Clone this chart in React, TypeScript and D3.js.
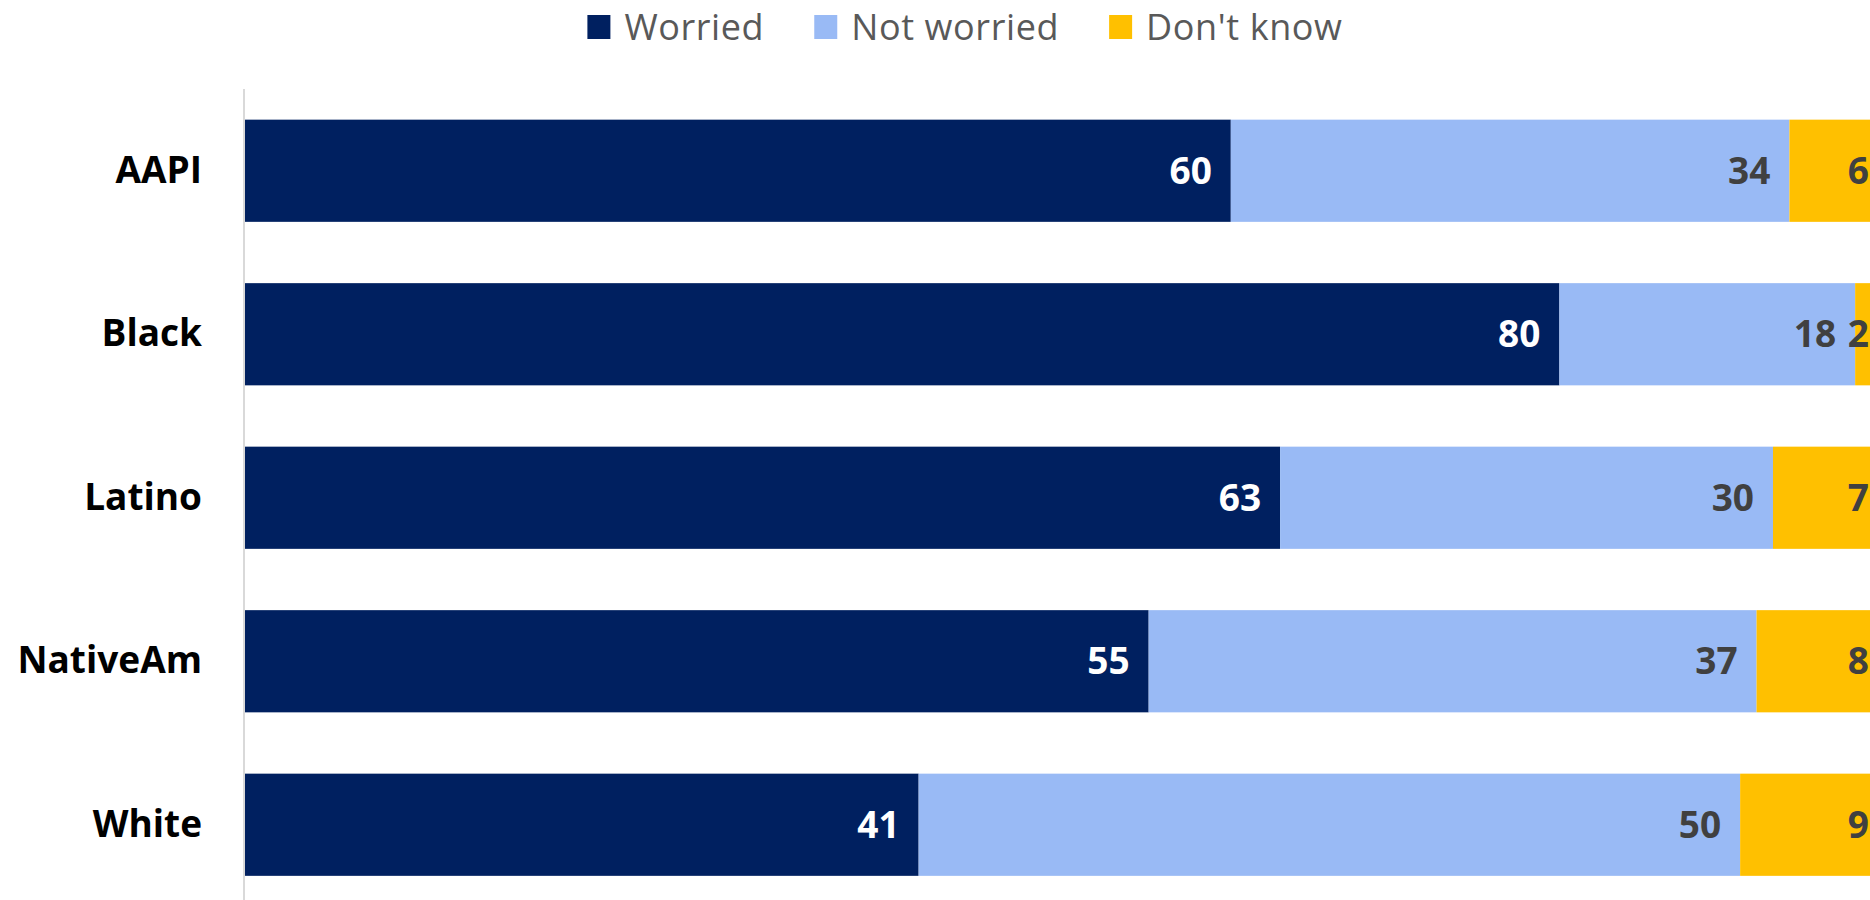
import React, { useEffect, useRef } from "react";
import * as d3 from "d3";

const categories = ["AAPI", "Black", "Latino", "NativeAm", "White"];
const worried = [60, 80, 63, 55, 41];
const notWorried = [34, 18, 30, 37, 50];
const dontKnow = [6, 2, 7, 8, 9];
const seriesNames = ["Worried", "Not worried", "Don't know"];
const seriesColors = ["#002060", "#99BAF5", "#FFC000"];
const labelColors = ["#FFFFFF", "#404040", "#404040"];

const W = 1870;
const H = 900;
const FONT = "'Open Sans', 'DejaVu Sans', sans-serif";
const FS = 37;
const LEGEND_FS = 36;

export default function App() {
  const ref = useRef<SVGSVGElement | null>(null);

  useEffect(() => {
    const svg = d3.select(ref.current);
    svg.selectAll("*").remove();

    const rows = categories.map((c, i) => ({
      cat: c,
      values: [worried[i], notWorried[i], dontKnow[i]],
    }));

    const x = d3.scaleLinear().domain([0, 100]).range([245, 1888]);
    const y = d3
      .scaleBand<string>()
      .domain(categories)
      .range([89, 906.5])
      .paddingInner(0.375)
      .paddingOuter(0.1875);

    const capHalf = (FS * 0.714) / 2;

    // axis line
    svg
      .append("line")
      .attr("x1", 244)
      .attr("x2", 244)
      .attr("y1", 89)
      .attr("y2", 906)
      .attr("stroke", "#D9D9D9")
      .attr("stroke-width", 2);

    // bars
    rows.forEach((r) => {
      let acc = 0;
      r.values.forEach((v, si) => {
        const x0 = x(acc);
        const x1 = x(acc + v);
        acc += v;
        svg
          .append("rect")
          .attr("x", x0)
          .attr("y", y(r.cat)!)
          .attr("width", x1 - x0)
          .attr("height", y.bandwidth())
          .attr("fill", seriesColors[si]);
        svg
          .append("text")
          .attr("x", x1 - 19)
          .attr("y", y(r.cat)! + y.bandwidth() / 2 + capHalf)
          .attr("text-anchor", "end")
          .attr("font-family", FONT)
          .attr("font-weight", 700)
          .attr("font-size", FS)
          .attr("fill", labelColors[si])
          .text(String(v));
      });
    });

    // category labels
    svg
      .selectAll("text.cat")
      .data(categories)
      .enter()
      .append("text")
      .attr("class", "cat")
      .attr("x", 202)
      .attr("y", (d) => y(d)! + y.bandwidth() / 2 + capHalf - 1)
      .attr("text-anchor", "end")
      .attr("font-family", FONT)
      .attr("font-weight", 700)
      .attr("font-size", FS)
      .attr("fill", "#000000")
      .text((d) => d);

    // legend
    const lg = svg.append("g");
    let cx = 0;
    const sq = 23;
    const gapSq = 14;
    const gapItem = 50;
    seriesNames.forEach((name, i) => {
      lg.append("rect")
        .attr("x", cx)
        .attr("y", 15)
        .attr("width", sq)
        .attr("height", sq + 1)
        .attr("fill", seriesColors[i]);
      const t = lg
        .append("text")
        .attr("x", cx + sq + gapSq)
        .attr("y", 39.5)
        .attr("font-family", FONT)
        .attr("font-size", LEGEND_FS)
        .attr("letter-spacing", 0.6)
        .attr("fill", "#595959")
        .text(name);
      const w = (t.node() as SVGTextElement).getComputedTextLength();
      cx += sq + gapSq + w + (i < seriesNames.length - 1 ? gapItem : 0);
    });
    lg.attr("transform", `translate(${965 - cx / 2},0)`);
  }, []);

  return (
    <svg
      ref={ref}
      width={W}
      height={H}
      style={{ position: "absolute", left: 0, top: 0, background: "#fff", overflow: "hidden" }}
    />
  );
}
